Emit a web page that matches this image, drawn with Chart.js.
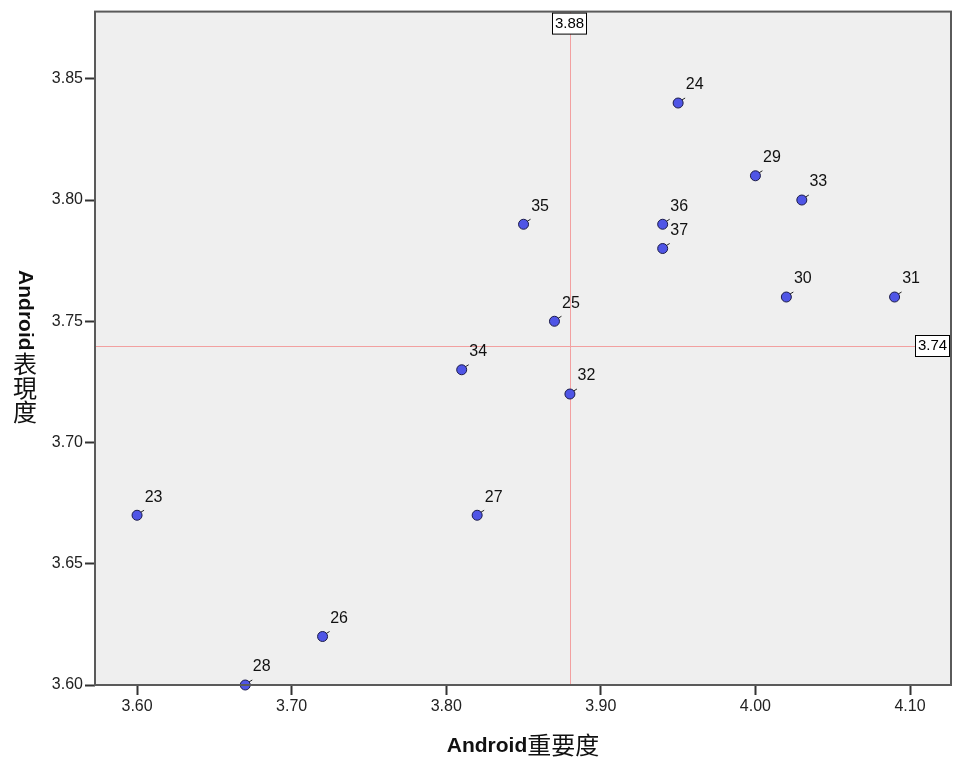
<!DOCTYPE html>
<html>
<head>
<meta charset="utf-8">
<script src="https://cdn.jsdelivr.net/npm/chart.js@4/dist/chart.umd.min.js"></script>
<style>
html,body{margin:0;padding:0;background:#fff;}
#wrap{width:954px;height:763px;}
</style>
</head>
<body>
<div id="wrap"><canvas id="c" width="954" height="763"></canvas></div>
<script>
// Data
const pointIds = ["23","24","25","26","27","28","29","30","31","32","33","34","35","36","37"];
const importance = [3.60,3.95,3.87,3.72,3.82,3.67,4.00,4.02,4.09,3.88,4.03,3.81,3.85,3.94,3.94];
const performance = [3.67,3.84,3.75,3.62,3.67,3.60,3.81,3.76,3.76,3.72,3.80,3.73,3.79,3.79,3.78];
const xTicks = [3.60,3.70,3.80,3.90,4.00,4.10];
const yTicks = [3.60,3.65,3.70,3.75,3.80,3.85];
const meanX = 3.88;
const meanY = 3.74;
const xTitle = "Android重要度";
const yTitleLatin = "Android";
const yTitleCJK = "表現度";

const FONT = "'Liberation Sans', Arial, sans-serif";
const CJK = "'Noto Sans CJK TC', 'Noto Sans CJK SC', sans-serif";

const points = importance.map((v,i)=>({x:v, y:performance[i]}));

const decorPlugin = {
  id:'decor',
  beforeDatasetsDraw(chart){
    const {ctx, chartArea:a, scales:{x,y}} = chart;
    ctx.save();
    ctx.fillStyle = '#efefef';
    ctx.fillRect(a.left, a.top, a.right-a.left, a.bottom-a.top);
    ctx.strokeStyle = '#f2a0a0';
    ctx.lineWidth = 1;
    const px = Math.round(x.getPixelForValue(meanX))+0.5;
    const py = Math.round(y.getPixelForValue(meanY))+0.5;
    ctx.beginPath(); ctx.moveTo(px, a.top); ctx.lineTo(px, a.bottom); ctx.stroke();
    ctx.beginPath(); ctx.moveTo(a.left, py); ctx.lineTo(a.right, py); ctx.stroke();
    ctx.strokeStyle = '#222';
    ctx.lineWidth = 1;
    chart.getDatasetMeta(0).data.forEach(el=>{
      ctx.beginPath(); ctx.moveTo(el.x+2, el.y-2); ctx.lineTo(el.x+7, el.y-5); ctx.stroke();
    });
    ctx.restore();
  },
  afterDatasetsDraw(chart){
    const {ctx, chartArea:a, scales:{x,y}} = chart;
    ctx.save();
    // point labels
    ctx.fillStyle = '#111';
    ctx.font = '16px ' + FONT;
    ctx.textAlign = 'center';
    ctx.textBaseline = 'middle';
    chart.getDatasetMeta(0).data.forEach((el,i)=>{
      ctx.fillText(pointIds[i], el.x+16.5, el.y-18);
    });
    // border
    ctx.strokeStyle = '#5a5a5a';
    ctx.lineWidth = 2;
    ctx.strokeRect(a.left, a.top, a.right-a.left, a.bottom-a.top);
    // reference value boxes
    const px = Math.round(x.getPixelForValue(meanX));
    const py = Math.round(y.getPixelForValue(meanY));
    ctx.font = '15px ' + FONT;
    ctx.lineWidth = 1;
    let w = 34, h = 21;
    ctx.fillStyle = '#fff';
    ctx.fillRect(px-17.5, a.top+1.5, w, h);
    ctx.strokeStyle = '#000';
    ctx.strokeRect(px-17.5, a.top+1.5, w, h);
    ctx.fillStyle = '#000';
    ctx.fillText(meanX.toFixed(2), px-0.5, a.top+12.5);
    ctx.fillStyle = '#fff';
    ctx.fillRect(a.right-35.5, py-10.5, w, h);
    ctx.strokeRect(a.right-35.5, py-10.5, w, h);
    ctx.fillStyle = '#000';
    ctx.fillText(meanY.toFixed(2), a.right-18.5, py);
    // x title
    ctx.textAlign = 'left';
    ctx.textBaseline = 'middle';
    ctx.font = 'bold 21px ' + FONT;
    const latin = xTitle.slice(0,7);
    const lw = ctx.measureText(latin).width;
    ctx.font = '24px ' + CJK;
    const cjkText = xTitle.slice(7);
    const cw = ctx.measureText(cjkText).width;
    const cx = (a.left+a.right)/2;
    const sx = cx - (lw+cw)/2;
    ctx.font = 'bold 21px ' + FONT;
    ctx.fillStyle = '#111';
    ctx.fillText(latin, sx, 746);
    ctx.font = '24px ' + CJK;
    ctx.fillText(cjkText, sx+lw, 745);
    // y title
    ctx.font = 'bold 21px ' + FONT;
    const ylw = ctx.measureText(yTitleLatin).width;
    const chH = 24;
    const ytotal = ylw + chH*yTitleCJK.length;
    const cy = (a.top+a.bottom)/2;
    const sy = cy - ytotal/2 - 2;
    ctx.save();
    ctx.translate(25, sy);
    ctx.rotate(Math.PI/2);
    ctx.textAlign='left'; ctx.textBaseline='middle';
    ctx.fillText(yTitleLatin, 0, 0);
    ctx.restore();
    ctx.font = '24px ' + CJK;
    ctx.textAlign='center'; ctx.textBaseline='middle';
    for (let i=0;i<yTitleCJK.length;i++){
      ctx.fillText(yTitleCJK[i], 25, sy+ylw+chH*i+chH/2+1);
    }
    ctx.restore();
  }
};

new Chart(document.getElementById('c'), {
  type:'scatter',
  data:{datasets:[{
    data: points,
    pointRadius:5,
    pointHoverRadius:5,
    pointBackgroundColor:'#4f55e6',
    pointBorderColor:'#1c1c4a',
    pointBorderWidth:1,
    clip:false
  }]},
  options:{
    responsive:false,
    animation:false,
    devicePixelRatio:1,
    layout:{autoPadding:false, padding:{left:0,top:11,right:3,bottom:0}},
    plugins:{legend:{display:false},tooltip:{enabled:false}},
    scales:{
      x:{
        type:'linear', min:3.5728, max:4.1265,
        afterBuildTicks(s){ s.ticks = xTicks.map(v=>({value:v})); },
        afterFit(s){ s.height = 78; },
        border:{display:true,color:'#333',width:1},
        grid:{drawOnChartArea:false, drawTicks:true, tickLength:10, color:'#333', tickWidth:2},
        ticks:{color:'#222', font:{family:FONT,size:16}, padding:2, maxRotation:0,
          callback:(v)=>Number(v).toFixed(2)}
      },
      y:{
        type:'linear', min:3.60, max:3.8777,
        afterBuildTicks(s){ s.ticks = yTicks.map(v=>({value:v})); },
        afterFit(s){ s.width = 95; },
        border:{display:true,color:'#333',width:1},
        grid:{drawOnChartArea:false, drawTicks:true, tickLength:10, color:'#333', tickWidth:2},
        ticks:{color:'#222', font:{family:FONT,size:16}, padding:2,
          callback:(v)=>Number(v).toFixed(2)}
      }
    }
  },
  plugins:[decorPlugin]
});
</script>
</body>
</html>
